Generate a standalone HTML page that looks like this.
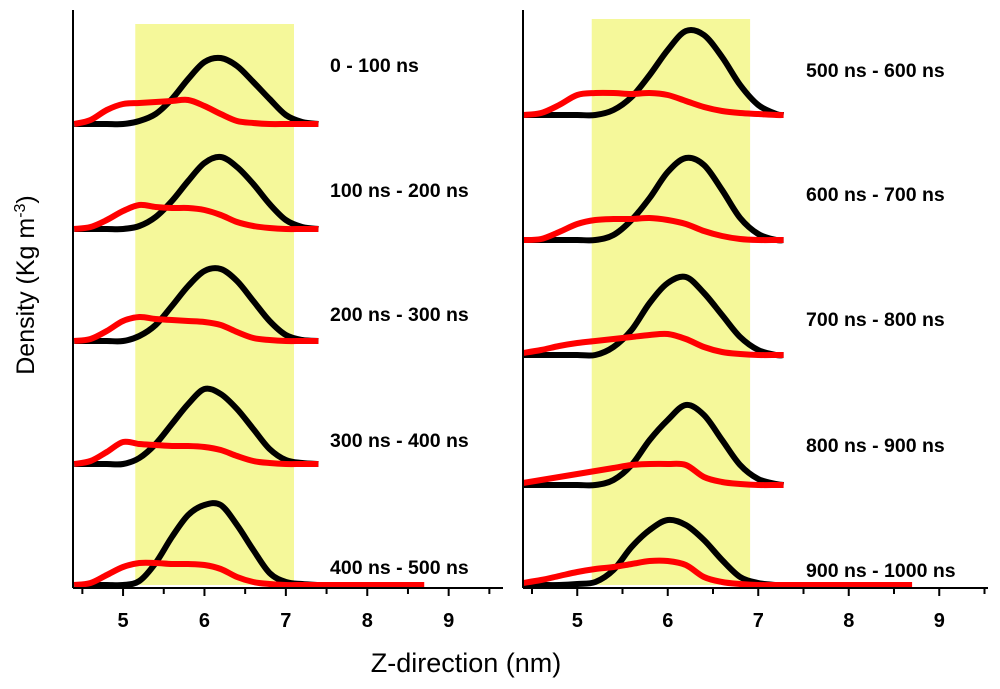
<!DOCTYPE html>
<html><head><meta charset="utf-8"><style>
body{margin:0;background:#fff}
svg{display:block;font-family:"Liberation Sans",sans-serif}
</style></head><body>
<svg id="chart" width="1000" height="689" viewBox="0 0 1000 689"></svg>
<script>
// shared z-grid (nm)
const zGrid = [4.4,4.6,4.8,5.0,5.2,5.4,5.6,5.8,6.0,6.2,6.4,6.6,6.8,7.0,7.2,7.4];
const tickValues = [5,6,7,8,9];
const tickLabels = ["5","6","7","8","9"];
const leftLabels = ["0 - 100 ns","100 ns - 200 ns","200 ns - 300 ns","300 ns - 400 ns","400 ns - 500 ns"];
const rightLabels = ["500 ns - 600 ns","600 ns - 700 ns","700 ns - 800 ns","800 ns - 900 ns","900 ns - 1000 ns"];
const leftBlack = [
 [0,0,0,0,3,10,25,45,62,66,58,42,25,9,2,0],
 [0,0,0,0,3,12,28,48,66,72,62,45,25,9,2,0],
 [0,0,0,0,5,16,35,55,70,72,60,40,20,6,1,0],
 [0,0,0,0,6,20,40,60,75,70,55,35,15,4,1,0],
 [0,0,0,0,4,22,48,70,80,80,60,35,12,3,1,0]];
const leftRed = [
 [0,4,14,20,21,22,23,24,18,10,3,1,0,0,0,0],
 [0,2,9,18,24,22,21,21,19,14,7,3,1,0,0,0],
 [0,2,10,20,24,22,21,20,19,16,9,3,1,0,0,0],
 [0,3,12,22,20,19,18,18,17,14,8,3,1,0,0,0],
 [0,2,10,18,22,22,21,21,20,16,8,3,1,0,0,0]];
const rightBlack = [
 [0,0,0,0,0,5,18,40,65,84,80,58,30,10,1,0],
 [0,0,0,0,0,5,20,42,68,82,75,50,22,6,0,0],
 [0,0,0,0,0,8,25,52,72,78,62,40,18,5,0,0],
 [0,0,0,0,0,5,20,45,65,80,70,45,20,6,1,0],
 [0,0,0,1,3,15,38,55,65,60,45,25,8,2,0,0]];
const rightRed = [
 [0,2,10,20,22,22,21,22,20,14,8,4,2,1,0,0],
 [0,1,8,16,20,21,21,22,20,16,9,4,1,0,0,0],
 [2,5,9,12,14,16,18,20,21,16,8,3,1,0,0,0],
 [2,5,8,11,14,17,20,21,21,20,8,3,1,0,0,0],
 [2,5,9,13,16,18,21,24,24,20,8,3,1,0,0,0]];
const leftBase = [124,229,341,464,585];
const rightBase = [115,240,355,485,585];

const svg = document.getElementById('chart');
const NS = 'http://www.w3.org/2000/svg';
function mk(tag, attrs, parent){const e=document.createElementNS(NS,tag);for(const k in attrs)e.setAttribute(k,attrs[k]);(parent||svg).appendChild(e);return e;}
function smooth(pts){
  let d='M'+pts[0][0]+','+pts[0][1];
  for(let i=0;i<pts.length-1;i++){
    const p0=pts[Math.max(0,i-1)],p1=pts[i],p2=pts[i+1],p3=pts[Math.min(pts.length-1,i+2)];
    const c1x=p1[0]+(p2[0]-p0[0])/6,c1y=p1[1]+(p2[1]-p0[1])/6;
    const c2x=p2[0]-(p3[0]-p1[0])/6,c2y=p2[1]-(p3[1]-p1[1])/6;
    d+=' C'+c1x+','+c1y+' '+c2x+','+c2y+' '+p2[0]+','+p2[1];
  }
  return d;
}

const panels = [
 {x0:4.385, px0:73, pxPerUnit:81.4, right:503, band:[5.15,7.1], bandTop:24, black:leftBlack, red:leftRed, base:leftBase, labels:leftLabels, lx:330, ly:[65,190,314,440,567], endZ:7.43, name:'left'},
 {x0:4.5-9/90.5, px0:523, pxPerUnit:90.5, right:988, band:[5.16,6.91], bandTop:19, black:rightBlack, red:rightRed, base:rightBase, labels:rightLabels, lx:806, ly:[70,194,319,445,570], endZ:7.28, name:'right'}];
const axisY = 588;

panels.forEach(p=>{
  const xs = z => p.px0 + (z - p.x0)*p.pxPerUnit;
  const ys = (base,v) => base - v;
  const g = mk('g',{});
  
  
  const band = mk('rect',{x:xs(p.band[0]),y:p.bandTop,width:xs(p.band[1])-xs(p.band[0]),height:axisY-3-p.bandTop,fill:'#f5f89a'},g);
  
  
  p.base.forEach((b,i)=>{
    const zs = zGrid.map(z=>Math.min(z,p.endZ));
    const bp = zs.map((z,j)=>[xs(z),ys(b,p.black[i][j])]);
    const bl = mk('path',{d:smooth(bp),fill:'none',stroke:'#000','stroke-width':6,'stroke-linejoin':'round'},g);
    
    
    let rp = zs.map((z,j)=>[xs(z),ys(b,p.red[i][j])]);
    if(i===4) rp.push([xs(8.7),b]);
    const rl = mk('path',{d:smooth(rp),fill:'none',stroke:'#f00','stroke-width':6,'stroke-linejoin':'round'},g);
    
    
    const t = mk('text',{x:p.lx,y:p.ly[i]+7,'font-size':19.5,'font-weight':'bold'},g);
    t.textContent = p.labels[i];
    
    
  });
  const ya = mk('line',{x1:p.px0,y1:10,x2:p.px0,y2:axisY,stroke:'#000','stroke-width':2},g);
  
  
  const xa = mk('line',{x1:p.px0,y1:axisY,x2:p.right,y2:axisY,stroke:'#000','stroke-width':2},g);
  
  
  for(let z=4.5; z<=9.51; z+=0.5){
    const major = Math.abs(z-Math.round(z))<0.01;
    const tk = mk('line',{x1:xs(z),y1:axisY,x2:xs(z),y2:axisY+(major?8:6),stroke:'#000','stroke-width':2},g);
    
    
  }
  tickValues.forEach((v,i)=>{
    const t = mk('text',{x:xs(v),y:627,'font-size':20,'font-weight':'bold','text-anchor':'middle'},g);
    t.textContent = tickLabels[i];
    
    
  });
});
const xt = mk('text',{x:466,y:672,'font-size':27,'text-anchor':'middle'});
xt.textContent = 'Z-direction (nm)';


const yt = mk('text',{x:0,y:0,'font-size':25,'text-anchor':'middle',transform:'translate(34,285) rotate(-90)'});
yt.innerHTML = 'Density (Kg m<tspan font-size="16" dy="-9">-3</tspan><tspan dy="9">)</tspan>';


</script>
</body></html>
